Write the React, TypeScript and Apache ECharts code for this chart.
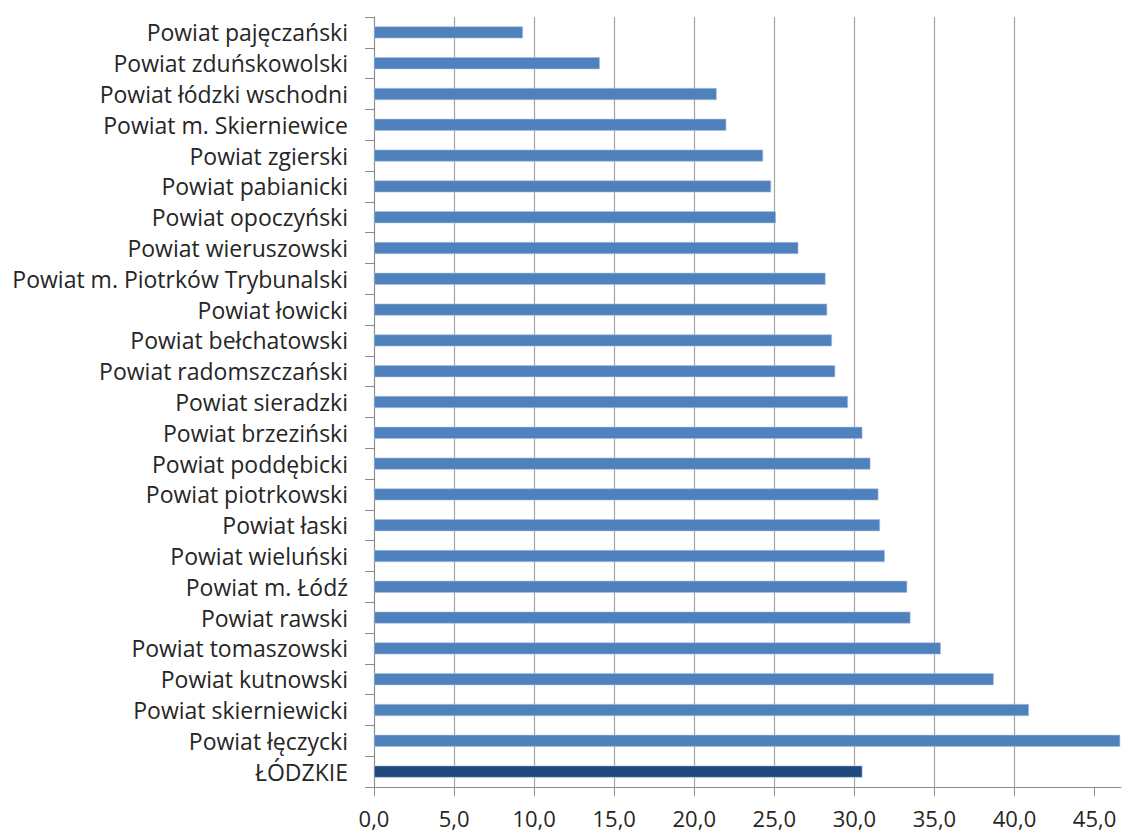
import React, { useEffect, useRef } from "react";
import * as echarts from "echarts";

const categories: string[] = [
  "Powiat pajęczański",
  "Powiat zduńskowolski",
  "Powiat łódzki wschodni",
  "Powiat m. Skierniewice",
  "Powiat zgierski",
  "Powiat pabianicki",
  "Powiat opoczyński",
  "Powiat wieruszowski",
  "Powiat m. Piotrków Trybunalski",
  "Powiat łowicki",
  "Powiat bełchatowski",
  "Powiat radomszczański",
  "Powiat sieradzki",
  "Powiat brzeziński",
  "Powiat poddębicki",
  "Powiat piotrkowski",
  "Powiat łaski",
  "Powiat wieluński",
  "Powiat m. Łódź",
  "Powiat rawski",
  "Powiat tomaszowski",
  "Powiat kutnowski",
  "Powiat skierniewicki",
  "Powiat łęczycki",
  "ŁÓDZKIE",
];

const values: number[] = [
  9.3, 14.1, 21.4, 22.0, 24.3, 24.8, 25.1, 26.5, 28.2, 28.3, 28.6, 28.8, 29.6,
  30.5, 31.0, 31.5, 31.6, 31.9, 33.3, 33.5, 35.4, 38.7, 40.9, 46.6, 30.5,
];

const highlighted: string[] = ["ŁÓDZKIE"];

const xTicks: number[] = [0, 5, 10, 15, 20, 25, 30, 35, 40, 45];
const xMax = 46.65;

export default function App() {
  const ref = useRef<HTMLDivElement>(null);

  useEffect(() => {
    if (!ref.current) return;
    const chart = echarts.init(ref.current, null, { renderer: "svg" });
    const fontFamily = "'Open Sans', Lato, sans-serif";
    chart.setOption({
      animation: false,
      backgroundColor: "#ffffff",
      grid: { left: 374, right: 1, top: 17, bottom: 45, containLabel: false },
      xAxis: {
        type: "value",
        min: 0,
        max: xMax,
        interval: 5,
        axisLine: { show: true, lineStyle: { color: "#8c8c8c", width: 1 } },
        axisTick: {
          show: true,
          length: 9,
          customValues: xTicks,
          lineStyle: { color: "#8c8c8c" },
        },
        axisLabel: {
          customValues: xTicks,
          margin: 20,
          color: "#262626",
          fontSize: 22,
          fontFamily,
          formatter: (v: number) => v.toFixed(1).replace(".", ","),
        },
        splitLine: {
          show: true,
          showMaxLine: false,
          lineStyle: { color: "#a6a6a6", width: 1.2 },
        },
      },
      yAxis: {
        type: "category",
        inverse: true,
        data: categories,
        axisLine: { show: true, lineStyle: { color: "#8c8c8c", width: 1 } },
        axisTick: {
          show: true,
          length: 9,
          alignWithLabel: false,
          lineStyle: { color: "#8c8c8c" },
        },
        axisLabel: {
          margin: 26,
          color: "#262626",
          fontSize: 23,
          fontFamily,
        },
        splitLine: { show: false },
      },
      series: [
        {
          type: "bar",
          barWidth: 12,
          data: values.map((v, i) =>
            highlighted.includes(categories[i])
              ? { value: v, itemStyle: { color: "#1f497d" } }
              : { value: v }
          ),
          itemStyle: { color: "#4f81bd", borderColor: "#a9c1df", borderWidth: 0.6 },
        },
      ],
    });
    return () => chart.dispose();
  }, []);

  return (
    <div
      ref={ref}
      style={{ position: "fixed", left: 0, top: 0, width: 1122, height: 832 }}
    />
  );
}
